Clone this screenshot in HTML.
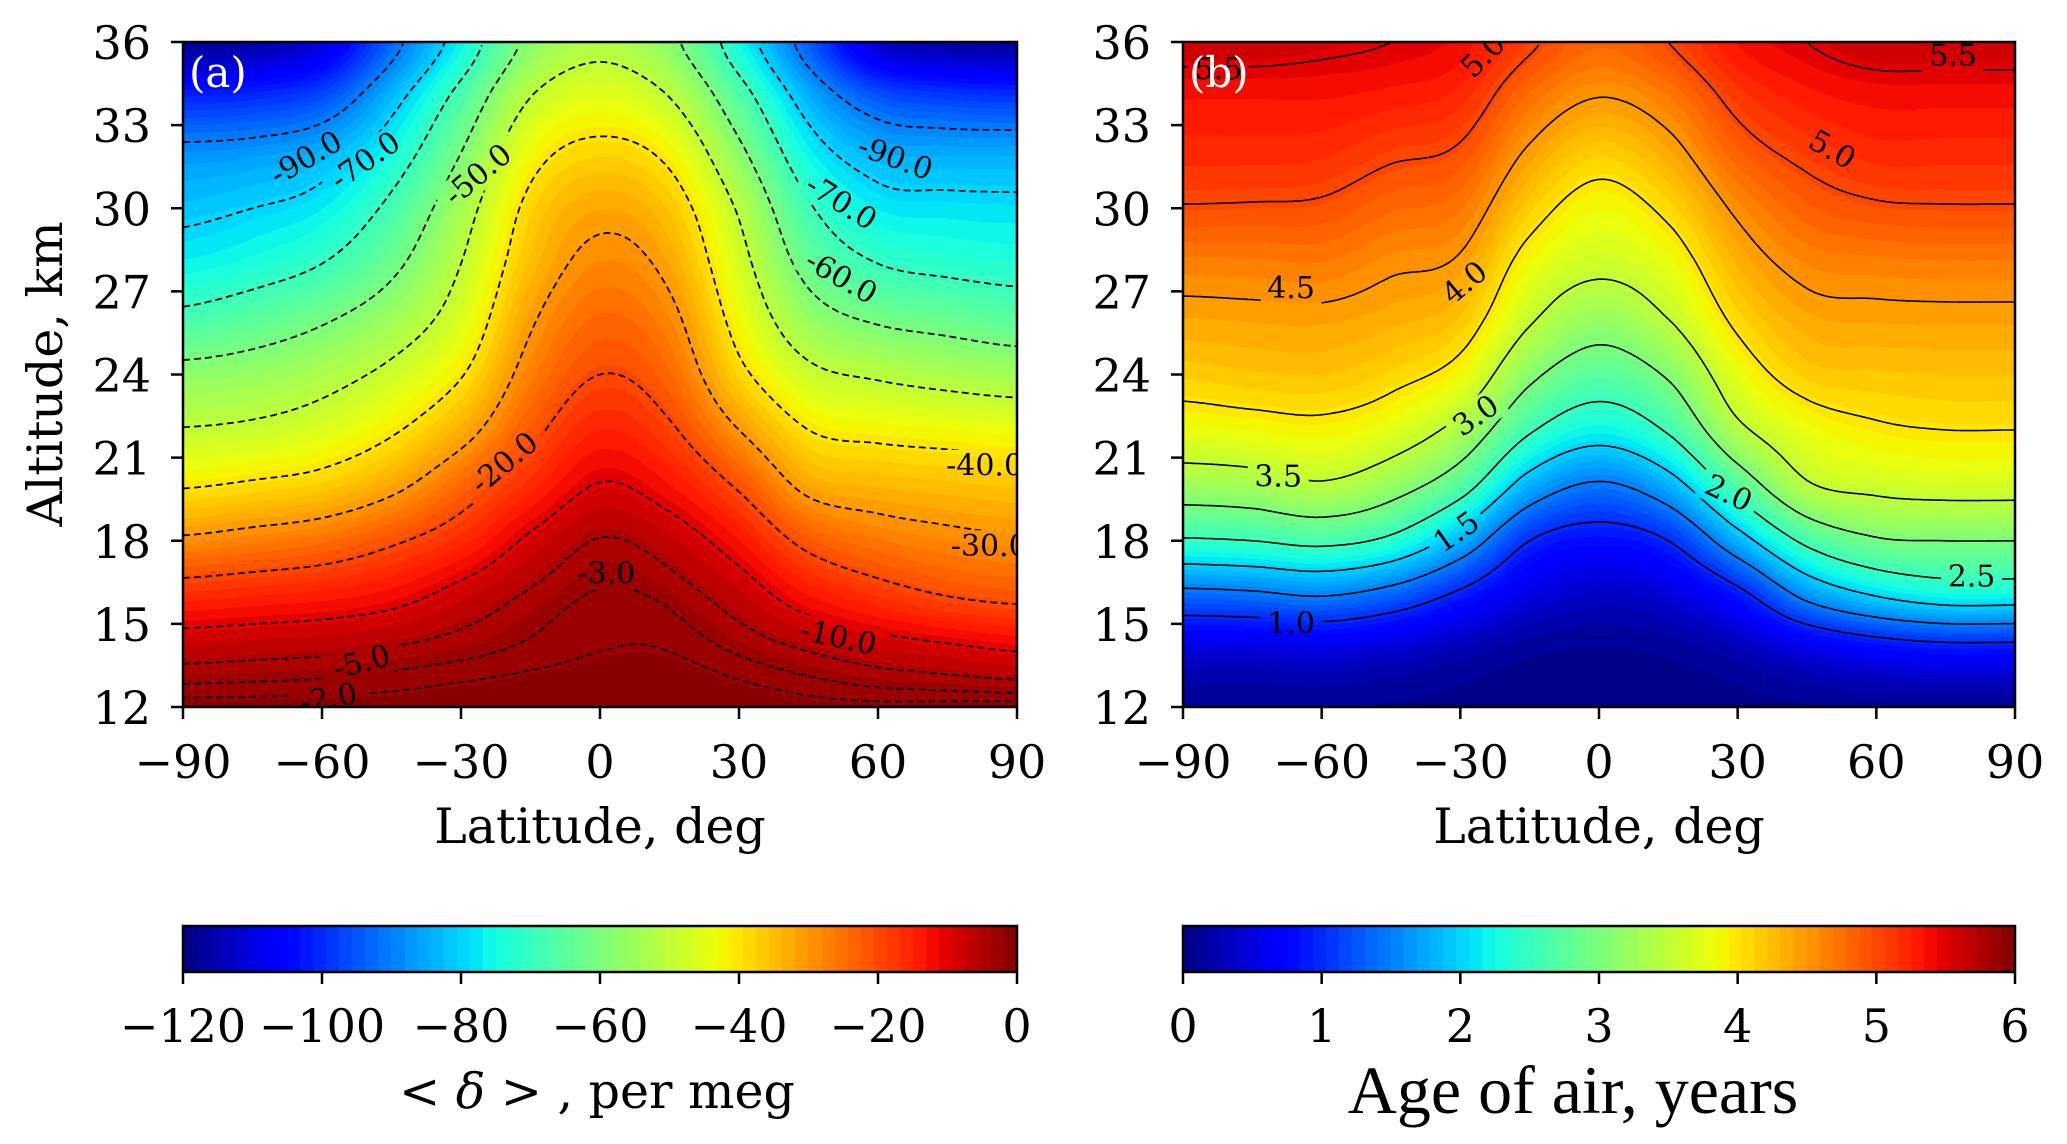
<!DOCTYPE html>
<html><head><meta charset="utf-8">
<style>
html,body{margin:0;padding:0;background:#fff;}
#root{position:relative;width:2067px;height:1144px;overflow:hidden;background:#fff;}
canvas{position:absolute;}
svg{position:absolute;left:0;top:0;}
text{font-family:"DejaVu Serif","Liberation Serif",serif;}
</style></head>
<body>
<div id="root">
<canvas id="fillA" style="left:183px;top:42px" width="834" height="665"></canvas>
<canvas id="fillB" style="left:1183px;top:42px" width="832" height="665"></canvas>
<canvas id="cbA" style="left:183px;top:926px" width="834" height="46"></canvas>
<canvas id="cbB" style="left:1183px;top:926px" width="832" height="46"></canvas>
<svg id="ov" width="2067" height="1144"></svg>
</div>
<script>
// ---- data ----
const lats = [-90,-75,-60,-45,-30,-15,0,15,30,45,60,75,90];
const alts = [12,14,16,18,20,22,24,26,28,30,32,34,36];
// delta (per meg), one column per latitude, bottom -> top
const deltaColM90 = [-1.5,-6.5,-16,-28.8,-40.6,-49.6,-57.4,-67.9,-76.4,-81.8,-88,-101,-118];
const deltaColM75 = [-1.5,-6,-15,-27,-39,-48.5,-56,-65,-74,-80,-87,-100,-116];
const deltaColM60 = [-1.5,-5.5,-14,-25,-37,-46,-53,-61,-70,-77,-84,-96,-110];
const deltaColM45 = [-1.5,-4.5,-12,-21,-32,-41,-48,-55,-62,-68,-75,-83,-93];
const deltaColM30 = [-1.3,-3.5,-8,-16,-24,-33,-40.5,-46,-50,-54,-60,-67,-76];
const deltaColM15 = [-1.1,-2.6,-4.5,-9,-16,-22,-27,-31,-35,-38,-43,-50,-58];
const deltaCol0   = [-1,-2,-2.8,-4.8,-9.7,-15,-20,-24,-28,-32,-38,-45,-52];
const deltaColP15 = [-1,-2,-3.5,-7,-13,-19,-24,-28,-32,-36,-42,-50,-58];
const deltaColP30 = [-1.3,-3.2,-7,-13,-21,-30,-38,-43,-47,-51,-58,-66,-75];
const deltaColP45 = [-1.6,-5,-13,-22,-32,-40,-48,-56,-63,-69,-76,-84,-94];
const deltaColP60 = [-1.7,-7,-17,-26,-34,-42,-51,-61,-70,-77,-84,-95,-112];
const deltaColP75 = [-1.6,-8.5,-20,-28,-35,-43,-53,-63,-72,-78,-85,-98,-116];
const deltaColP90 = [-1.5,-10,-21.5,-29.2,-36,-44,-54.5,-65,-73,-78.4,-85,-99,-117];
// age of air (years)
const ageColM90 = [0.1,0.45,1.35,2.45,3.25,3.8,4.15,4.4,4.65,4.98,5.2,5.35,5.6];
const ageColM75 = [0.1,0.45,1.4,2.5,3.3,3.85,4.2,4.42,4.66,4.97,5.2,5.35,5.6];
const ageColM60 = [0.1,0.5,1.5,2.6,3.45,3.9,4.22,4.43,4.68,4.95,5.18,5.35,5.55];
const ageColM45 = [0.08,0.4,1.3,2.4,3.2,3.75,4.1,4.35,4.55,4.8,5.05,5.3,5.5];
const ageColM30 = [0.05,0.25,0.9,1.8,2.7,3.35,3.85,4.2,4.45,4.7,4.95,5.2,5.4];
const ageColM15 = [0.02,0.12,0.5,1.0,1.8,2.55,3.1,3.55,3.85,4.15,4.45,4.75,5.05];
const ageCol0   = [0.0,0.08,0.35,0.8,1.45,2.2,2.75,3.2,3.6,3.85,4.15,4.5,4.8];
const ageColP15 = [0.02,0.12,0.45,1.0,1.8,2.55,3.05,3.5,3.8,4.08,4.38,4.68,5.0];
const ageColP30 = [0.05,0.25,0.85,1.8,2.7,3.4,3.78,4.08,4.32,4.56,4.85,5.1,5.35];
const ageColP45 = [0.08,0.5,1.6,2.6,3.45,3.8,4.15,4.38,4.6,4.85,5.08,5.3,5.5];
const ageColP60 = [0.1,0.7,2.0,2.95,3.6,3.95,4.2,4.42,4.65,4.96,5.2,5.38,5.6];
const ageColP75 = [0.1,0.8,2.2,3.0,3.65,4.0,4.22,4.43,4.67,4.98,5.2,5.38,5.6];
const ageColP90 = [0.1,0.8,2.2,3.0,3.65,4.0,4.22,4.43,4.67,4.98,5.2,5.38,5.6];
const deltaLevels = [-90,-80,-70,-60,-50,-40,-30,-20,-10,-5,-3,-2];
const ageLevels = [1.0,1.5,2.0,2.5,3.0,3.5,4.0,4.5,5.0,5.5];
const latTicks = [-90,-60,-30,0,30,60,90];
const altTicks = [12,15,18,21,24,27,30,33,36];
const deltaCbTicks = [-120,-100,-80,-60,-40,-20,0];
const ageCbTicks = [0,1,2,3,4,5,6];
const deltaLabelText = ['-90.0','-70.0','-50.0','-20.0','-3.0','-5.0','-2.0','-10.0','-30.0','-40.0','-60.0','-70.0','-90.0'];
const deltaLabelLat  = [-63.4,-50.6,-26.3,-20.6,1.4,-51.4,-58.6,51.4,84,83,52,52,63.7];
const deltaLabelAlt  = [31.8,31.7,31.2,20.8,16.8,13.6,12.3,14.5,17.8,20.7,27.5,30.2,31.8];
const deltaLabelRot  = [-30,-35,-40,-40,0,-15,-10,12,0,0,30,32,20];
const ageLabelText = ['5.5','5.0','5.5','5.0','4.5','4.0','3.0','3.5','2.0','1.5','2.5','1.0'];
const ageLabelLat  = [-82.3,-25,76.6,50.4,-66.6,-29,-26.6,-69.4,28,-30.8,80.6,-66.6];
const ageLabelAlt  = [35.0,35.5,35.5,32.1,27.1,27.3,22.5,20.3,19.7,18.3,16.7,15.0];
const ageLabelRot  = [0,-45,0,30,0,-40,-35,0,25,-35,0,0];

const deltaCols=[deltaColM90,deltaColM75,deltaColM60,deltaColM45,deltaColM30,deltaColM15,deltaCol0,deltaColP15,deltaColP30,deltaColP45,deltaColP60,deltaColP75,deltaColP90];
const ageCols=[ageColM90,ageColM75,ageColM60,ageColM45,ageColM30,ageColM15,ageCol0,ageColP15,ageColP30,ageColP45,ageColP60,ageColP75,ageColP90];

// ---- helpers ----
function jet(t){
  t=Math.max(0,Math.min(1,t));
  function seg(pts){for(let i=1;i<pts.length;i++){if(t<=pts[i][0]){const a=pts[i-1],b=pts[i];return a[1]+(b[1]-a[1])*(t-a[0])/(b[0]-a[0]);}}return pts[pts.length-1][1];}
  const r=seg([[0,0],[0.35,0],[0.66,1],[0.89,1],[1,0.5]]);
  const g=seg([[0,0],[0.125,0],[0.375,1],[0.64,1],[0.91,0],[1,0]]);
  const b=seg([[0,0.5],[0.11,1],[0.34,1],[0.65,0],[1,0]]);
  return [r*255,g*255,b*255];
}
function cr(p0,p1,p2,p3,t){return 0.5*((2*p1)+(-p0+p2)*t+(2*p0-5*p1+4*p2-p3)*t*t+(-p0+3*p1-3*p2+p3)*t*t*t);}
function sample(cols,lat,alt){
  const fi=(lat-lats[0])/(lats[1]-lats[0]), fj=(alt-alts[0])/(alts[1]-alts[0]);
  const n=lats.length-1,m=alts.length-1;
  let i=Math.min(n-1,Math.max(0,Math.floor(fi))), j=Math.min(m-1,Math.max(0,Math.floor(fj)));
  const tx=fi-i, ty=fj-j;
  const cl=k=>Math.max(0,Math.min(k,n)), cm=k=>Math.max(0,Math.min(k,m));
  const rows=[];
  for(let dj=-1;dj<=2;dj++){
    const jj=cm(j+dj);
    rows.push(cr(cols[cl(i-1)][jj],cols[cl(i)][jj],cols[cl(i+1)][jj],cols[cl(i+2)][jj],tx));
  }
  return cr(rows[0],rows[1],rows[2],rows[3],ty);
}
const NS='http://www.w3.org/2000/svg';
const ov=document.getElementById('ov');
function el(tag,attrs,parent){const e=document.createElementNS(NS,tag);for(const k in attrs)e.setAttribute(k,attrs[k]);(parent||ov).appendChild(e);return e;}

function panel(cfg){
  const {x0,x1,y0,y1,cols,vmin,vmax,levels,dash,canvas,labT,labLat,labAlt,labRot,tag}=cfg;
  const X=lat=>x0+(lat+90)/180*(x1-x0);
  const Y=alt=>y1-(alt-12)/24*(y1-y0);
  const cv=document.getElementById(canvas),ctx=cv.getContext('2d');
  const W=cv.width,H=cv.height,img=ctx.createImageData(W,H);
  const nb=64;
  for(let py=0;py<H;py++){const alt=36-(py+0.5)/H*24;
    for(let px=0;px<W;px++){const lat=-90+(px+0.5)/W*180;
      let t=(sample(cols,lat,alt)-vmin)/(vmax-vmin);
      t=(Math.floor(Math.max(0,Math.min(0.9999,t))*nb)+0.5)/nb;
      const c=jet(t),o=(py*W+px)*4;img.data[o]=c[0];img.data[o+1]=c[1];img.data[o+2]=c[2];img.data[o+3]=255;}}
  ctx.putImageData(img,0,0);
  const defs=el('defs',{});
  const clip=el('clipPath',{id:'clip'+tag},defs);el('rect',{x:x0,y:y0,width:x1-x0,height:y1-y0},clip);
  const mask=el('mask',{id:'mask'+tag,maskUnits:'userSpaceOnUse',x:0,y:0,width:2067,height:1144},defs);
  el('rect',{x:0,y:0,width:2067,height:1144,fill:'#fff'},mask);
  for(let k=0;k<labT.length;k++){const w=labT[k].length*17+10;
    el('rect',{x:X(labLat[k])-w/2,y:Y(labAlt[k])-16,width:w,height:32,fill:'#000',transform:`rotate(${labRot[k]} ${X(labLat[k])} ${Y(labAlt[k])})`},mask);}
  const g=el('g',{'clip-path':`url(#clip${tag})`,mask:`url(#mask${tag})`});
  
  
  levels.forEach(lv=>{
    let d='',pen=false;
    for(let lat=-90;lat<=90.001;lat+=0.5){
      let found=null,prev=sample(cols,lat,12);
      for(let a=12.05;a<=36.001;a+=0.05){const v=sample(cols,lat,a);
        if((prev-lv)*(v-lv)<=0&&prev!==v){found=a-0.05+0.05*(lv-prev)/(v-prev);break;}prev=v;}
      if(found===null){pen=false;continue;}
      d+=(pen?'L':'M')+X(lat).toFixed(1)+' '+Y(found).toFixed(1);pen=true;
    }
    if(d){const p=el('path',{d:d,fill:'none',stroke:'#000','stroke-width':dash?1.8:1.6,'stroke-dasharray':dash?'7 4':'none'},g);
      
      }
  });
  const lg=el('g',{'clip-path':`url(#clip${tag})`});
  for(let k=0;k<labT.length;k++){
    const t=el('text',{x:X(labLat[k]),y:Y(labAlt[k]),'font-size':30,'text-anchor':'middle','dominant-baseline':'central',fill:'#000',transform:`rotate(${labRot[k]} ${X(labLat[k])} ${Y(labAlt[k])})`},lg);
    t.textContent=labT[k];
    
    
  }
  const fr=el('rect',{x:x0,y:y0,width:x1-x0,height:y1-y0,fill:'none',stroke:'#000','stroke-width':2.5});
  
  
  latTicks.forEach(v=>{el('line',{x1:X(v),x2:X(v),y1:y1,y2:y1+12,stroke:'#000','stroke-width':2.5});
    const t=el('text',{x:X(v),y:778,'font-size':46,'text-anchor':'middle'});t.textContent=(v<0?'\u2212':'')+Math.abs(v);
    
    });
  altTicks.forEach(v=>{el('line',{x1:x0-12,x2:x0,y1:Y(v),y2:Y(v),stroke:'#000','stroke-width':2.5});
    const t=el('text',{x:x0-32,y:Y(v)+17,'font-size':46,'text-anchor':'end'});t.textContent=v;
    
    });
  const xt=el('text',{x:(x0+x1)/2,y:843,'font-size':49,'text-anchor':'middle'});xt.textContent='Latitude, deg';
  
  
  const pl=el('text',{x:x0+6,y:87,'font-size':42,fill:'#fff'});pl.textContent=tag==='a'?'(a)':'(b)';
  
  
}
function colorbar(canvas,x0,x1,vmin,vmax,ticks,fmt,tag){
  const cv=document.getElementById(canvas),ctx=cv.getContext('2d');const nb=64;
  for(let px=0;px<cv.width;px++){const t=(Math.floor(Math.min(0.9999,(px+0.5)/cv.width)*nb)+0.5)/nb;const c=jet(t);
    ctx.fillStyle=`rgb(${c[0]|0},${c[1]|0},${c[2]|0})`;ctx.fillRect(px,0,1,cv.height);}
  const f=el('rect',{x:x0,y:926,width:x1-x0,height:46,fill:'none',stroke:'#000','stroke-width':2.5});
  
  
  ticks.forEach(v=>{const x=x0+(v-vmin)/(vmax-vmin)*(x1-x0);
    el('line',{x1:x,x2:x,y1:972,y2:984,stroke:'#000','stroke-width':2.5});
    const t=el('text',{x:x,y:1042,'font-size':46,'text-anchor':'middle'});t.textContent=fmt(v);
    
    });
}
panel({x0:183,x1:1017,y0:42,y1:707,cols:deltaCols,vmin:-120,vmax:0,levels:deltaLevels,dash:true,canvas:'fillA',labT:deltaLabelText,labLat:deltaLabelLat,labAlt:deltaLabelAlt,labRot:deltaLabelRot,tag:'a'});
panel({x0:1183,x1:2015,y0:42,y1:707,cols:ageCols,vmin:0,vmax:6,levels:ageLevels,dash:false,canvas:'fillB',labT:ageLabelText,labLat:ageLabelLat,labAlt:ageLabelAlt,labRot:ageLabelRot,tag:'b'});
colorbar('cbA',183,1017,-120,0,deltaCbTicks,v=>(v<0?'\u2212':'')+Math.abs(v),'delta');
colorbar('cbB',1183,2015,0,6,ageCbTicks,v=>String(v),'age');
const yt=el('text',{x:0,y:0,'font-size':49,'text-anchor':'middle',transform:'translate(62 374) rotate(-90)'});yt.textContent='Altitude, km';


const c1=el('text',{x:597,y:1108,'font-size':49,'text-anchor':'middle'});
c1.innerHTML='&lt; <tspan font-style="italic">δ</tspan> &gt; , per meg';


const c2=el('text',{x:1573,y:1113,'font-size':68,'text-anchor':'middle',style:'font-family:"Liberation Serif",serif'});
c2.textContent='Age of air, years';


</script>
</body></html>
